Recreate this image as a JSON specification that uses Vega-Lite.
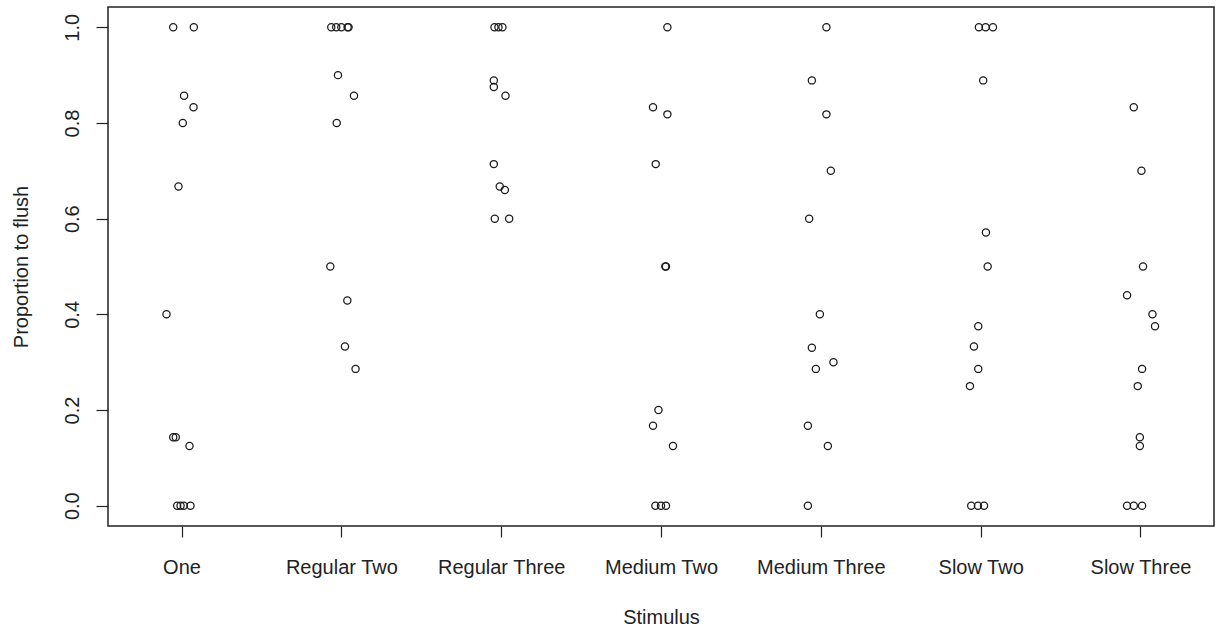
{
  "$schema": "https://vega.github.io/schema/vega-lite/v6.json",
  "width": 1106,
  "height": 519,
  "autosize": {"type": "none"},
  "padding": {"left": 108, "top": 7, "right": 3, "bottom": 105},
  "background": "white",
  "config": {
    "view": {"stroke": "#222222", "strokeWidth": 1.5},
    "font": "Liberation Sans",
    "axis": {
      "grid": false,
      "domain": false,
      "tickColor": "#222222",
      "tickWidth": 1.2,
      "labelColor": "#222222",
      "titleColor": "#222222",
      "labelFont": "Liberation Sans",
      "titleFont": "Liberation Sans",
      "labelFontSize": 20,
      "titleFontSize": 20,
      "titleFontWeight": "normal"
    }
  },
  "data": {
    "values": [
      {"stimulus": "One", "pos": 0.948, "p": 1},
      {"stimulus": "One", "pos": 1.077, "p": 1},
      {"stimulus": "One", "pos": 1.016, "p": 0.857},
      {"stimulus": "One", "pos": 1.075, "p": 0.833},
      {"stimulus": "One", "pos": 1.008, "p": 0.8},
      {"stimulus": "One", "pos": 0.981, "p": 0.667},
      {"stimulus": "One", "pos": 0.906, "p": 0.4},
      {"stimulus": "One", "pos": 0.948, "p": 0.143},
      {"stimulus": "One", "pos": 0.964, "p": 0.143},
      {"stimulus": "One", "pos": 1.05, "p": 0.125},
      {"stimulus": "One", "pos": 0.973, "p": 0},
      {"stimulus": "One", "pos": 0.994, "p": 0},
      {"stimulus": "One", "pos": 1.014, "p": 0},
      {"stimulus": "One", "pos": 1.056, "p": 0},

      {"stimulus": "Regular Two", "pos": 1.937, "p": 1},
      {"stimulus": "Regular Two", "pos": 1.968, "p": 1},
      {"stimulus": "Regular Two", "pos": 2.0, "p": 1},
      {"stimulus": "Regular Two", "pos": 2.039, "p": 1},
      {"stimulus": "Regular Two", "pos": 2.045, "p": 1},
      {"stimulus": "Regular Two", "pos": 1.979, "p": 0.9},
      {"stimulus": "Regular Two", "pos": 2.079, "p": 0.857},
      {"stimulus": "Regular Two", "pos": 1.971, "p": 0.8},
      {"stimulus": "Regular Two", "pos": 1.931, "p": 0.5},
      {"stimulus": "Regular Two", "pos": 2.0375, "p": 0.429},
      {"stimulus": "Regular Two", "pos": 2.0225, "p": 0.333},
      {"stimulus": "Regular Two", "pos": 2.089, "p": 0.286},

      {"stimulus": "Regular Three", "pos": 2.958, "p": 1},
      {"stimulus": "Regular Three", "pos": 2.983, "p": 1},
      {"stimulus": "Regular Three", "pos": 3.008, "p": 1},
      {"stimulus": "Regular Three", "pos": 2.954, "p": 0.889},
      {"stimulus": "Regular Three", "pos": 2.954, "p": 0.875},
      {"stimulus": "Regular Three", "pos": 3.027, "p": 0.857},
      {"stimulus": "Regular Three", "pos": 2.954, "p": 0.714},
      {"stimulus": "Regular Three", "pos": 2.991, "p": 0.667},
      {"stimulus": "Regular Three", "pos": 3.023, "p": 0.66},
      {"stimulus": "Regular Three", "pos": 2.96, "p": 0.6},
      {"stimulus": "Regular Three", "pos": 3.05, "p": 0.6},

      {"stimulus": "Medium Two", "pos": 4.04, "p": 1},
      {"stimulus": "Medium Two", "pos": 3.95, "p": 0.833},
      {"stimulus": "Medium Two", "pos": 4.04, "p": 0.818},
      {"stimulus": "Medium Two", "pos": 3.967, "p": 0.714},
      {"stimulus": "Medium Two", "pos": 4.027, "p": 0.5},
      {"stimulus": "Medium Two", "pos": 4.031, "p": 0.5},
      {"stimulus": "Medium Two", "pos": 3.984, "p": 0.2},
      {"stimulus": "Medium Two", "pos": 3.95, "p": 0.167},
      {"stimulus": "Medium Two", "pos": 4.075, "p": 0.125},
      {"stimulus": "Medium Two", "pos": 3.965, "p": 0},
      {"stimulus": "Medium Two", "pos": 4.0, "p": 0},
      {"stimulus": "Medium Two", "pos": 4.031, "p": 0},

      {"stimulus": "Medium Three", "pos": 5.035, "p": 1},
      {"stimulus": "Medium Three", "pos": 4.944, "p": 0.889},
      {"stimulus": "Medium Three", "pos": 5.035, "p": 0.818},
      {"stimulus": "Medium Three", "pos": 5.0625, "p": 0.7},
      {"stimulus": "Medium Three", "pos": 4.927, "p": 0.6},
      {"stimulus": "Medium Three", "pos": 4.994, "p": 0.4},
      {"stimulus": "Medium Three", "pos": 4.944, "p": 0.33},
      {"stimulus": "Medium Three", "pos": 5.079, "p": 0.3},
      {"stimulus": "Medium Three", "pos": 4.969, "p": 0.286},
      {"stimulus": "Medium Three", "pos": 4.919, "p": 0.167},
      {"stimulus": "Medium Three", "pos": 5.044, "p": 0.125},
      {"stimulus": "Medium Three", "pos": 4.919, "p": 0},

      {"stimulus": "Slow Two", "pos": 5.989, "p": 1},
      {"stimulus": "Slow Two", "pos": 6.031, "p": 1},
      {"stimulus": "Slow Two", "pos": 6.077, "p": 1},
      {"stimulus": "Slow Two", "pos": 6.016, "p": 0.889},
      {"stimulus": "Slow Two", "pos": 6.033, "p": 0.571},
      {"stimulus": "Slow Two", "pos": 6.044, "p": 0.5},
      {"stimulus": "Slow Two", "pos": 5.985, "p": 0.375},
      {"stimulus": "Slow Two", "pos": 5.958, "p": 0.333},
      {"stimulus": "Slow Two", "pos": 5.985, "p": 0.286},
      {"stimulus": "Slow Two", "pos": 5.933, "p": 0.25},
      {"stimulus": "Slow Two", "pos": 5.941, "p": 0},
      {"stimulus": "Slow Two", "pos": 5.983, "p": 0},
      {"stimulus": "Slow Two", "pos": 6.021, "p": 0},

      {"stimulus": "Slow Three", "pos": 6.958, "p": 0.833},
      {"stimulus": "Slow Three", "pos": 7.006, "p": 0.7},
      {"stimulus": "Slow Three", "pos": 7.016, "p": 0.5},
      {"stimulus": "Slow Three", "pos": 6.916, "p": 0.44},
      {"stimulus": "Slow Three", "pos": 7.075, "p": 0.4},
      {"stimulus": "Slow Three", "pos": 7.091, "p": 0.375},
      {"stimulus": "Slow Three", "pos": 7.01, "p": 0.286},
      {"stimulus": "Slow Three", "pos": 6.983, "p": 0.25},
      {"stimulus": "Slow Three", "pos": 6.996, "p": 0.143},
      {"stimulus": "Slow Three", "pos": 6.996, "p": 0.125},
      {"stimulus": "Slow Three", "pos": 6.916, "p": 0},
      {"stimulus": "Slow Three", "pos": 6.958, "p": 0},
      {"stimulus": "Slow Three", "pos": 7.01, "p": 0}
    ]
  },
  "mark": {
    "type": "point",
    "shape": "circle",
    "filled": false,
    "size": 52,
    "stroke": "#1a1a1a",
    "strokeWidth": 1.25,
    "opacity": 1
  },
  "encoding": {
    "x": {
      "field": "pos",
      "type": "quantitative",
      "scale": {"domain": [0.54, 7.46], "nice": false, "zero": false},
      "axis": {
        "title": "Stimulus",
        "values": [1, 2, 3, 4, 5, 6, 7],
        "labelExpr": "['One', 'Regular Two', 'Regular Three', 'Medium Two', 'Medium Three', 'Slow Two', 'Slow Three'][datum.value - 1]",
        "tickSize": 11,
        "labelBaseline": "alphabetic",
        "labelPadding": 36,
        "labelFlush": false,
        "labelOverlap": false,
        "titleBaseline": "alphabetic",
        "titleY": 97,
        "titleX": 553
      }
    },
    "y": {
      "field": "p",
      "type": "quantitative",
      "scale": {"domain": [-0.0424, 1.0424], "nice": false, "zero": false},
      "axis": {
        "title": "Proportion to flush",
        "values": [0, 0.2, 0.4, 0.6, 0.8, 1],
        "format": ".1f",
        "tickSize": 12,
        "labelAngle": 270,
        "labelAlign": "center",
        "labelBaseline": "alphabetic",
        "labelPadding": 18,
        "labelFlush": false,
        "labelOverlap": false,
        "titleAngle": 270,
        "titleAlign": "center",
        "titleBaseline": "alphabetic",
        "titleX": -81,
        "titleY": 259.5
      }
    }
  }
}
